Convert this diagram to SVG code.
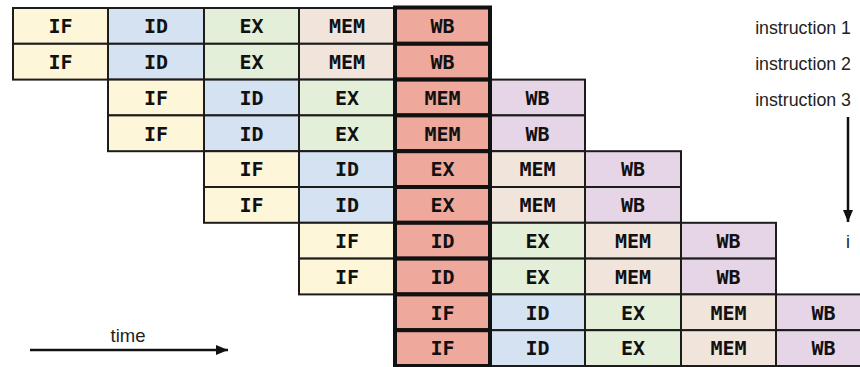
<svg xmlns="http://www.w3.org/2000/svg" width="860" height="367" viewBox="0 0 860 367">
<style>
rect{stroke:#1c1c1c;stroke-width:2}
.if{fill:#fdf6d8}.id{fill:#d5e2f2}.ex{fill:#e3efd9}.mem{fill:#f1e4db}.wb{fill:#e6d4e7}
.hot{fill:#eea89c;stroke:#111;stroke-width:4}
text.s{font-family:"DejaVu Sans Mono",monospace;font-weight:bold;font-size:20px;fill:#111;text-anchor:middle}
text.n{font-family:"Liberation Sans",Arial,sans-serif;font-size:17.8px;fill:#222}
</style>
<defs>
<marker id="ah" viewBox="0 0 12 10" refX="12" refY="5" markerWidth="12" markerHeight="10" markerUnits="userSpaceOnUse" orient="auto"><path d="M0,0L12,5L0,10z" fill="#111"/></marker>
</defs>
<g id="r0">
<g id="n0_0"><rect class="if" x="13" y="8" width="95" height="35.8"/><text class="s" x="60.5" y="33.2">IF</text></g>
<g id="n0_1"><rect class="id" x="108" y="8" width="96" height="35.8"/><text class="s" x="156" y="33.2">ID</text></g>
<g id="n0_2"><rect class="ex" x="204" y="8" width="95" height="35.8"/><text class="s" x="251.5" y="33.2">EX</text></g>
<g id="n0_3"><rect class="mem" x="299" y="8" width="96" height="35.8"/><text class="s" x="347" y="33.2">MEM</text></g>
</g>
<g id="r1">
<g id="n1_0"><rect class="if" x="13" y="43.8" width="95" height="35.8"/><text class="s" x="60.5" y="69">IF</text></g>
<g id="n1_1"><rect class="id" x="108" y="43.8" width="96" height="35.8"/><text class="s" x="156" y="69">ID</text></g>
<g id="n1_2"><rect class="ex" x="204" y="43.8" width="95" height="35.8"/><text class="s" x="251.5" y="69">EX</text></g>
<g id="n1_3"><rect class="mem" x="299" y="43.8" width="96" height="35.8"/><text class="s" x="347" y="69">MEM</text></g>
</g>
<g id="r2">
<g id="n2_1"><rect class="if" x="108" y="79.6" width="96" height="35.8"/><text class="s" x="156" y="104.8">IF</text></g>
<g id="n2_2"><rect class="id" x="204" y="79.6" width="95" height="35.8"/><text class="s" x="251.5" y="104.8">ID</text></g>
<g id="n2_3"><rect class="ex" x="299" y="79.6" width="96" height="35.8"/><text class="s" x="347" y="104.8">EX</text></g>
<g id="n2_5"><rect class="wb" x="490" y="79.6" width="95" height="35.8"/><text class="s" x="537.5" y="104.8">WB</text></g>
</g>
<g id="r3">
<g id="n3_1"><rect class="if" x="108" y="115.4" width="96" height="35.8"/><text class="s" x="156" y="140.6">IF</text></g>
<g id="n3_2"><rect class="id" x="204" y="115.4" width="95" height="35.8"/><text class="s" x="251.5" y="140.6">ID</text></g>
<g id="n3_3"><rect class="ex" x="299" y="115.4" width="96" height="35.8"/><text class="s" x="347" y="140.6">EX</text></g>
<g id="n3_5"><rect class="wb" x="490" y="115.4" width="95" height="35.8"/><text class="s" x="537.5" y="140.6">WB</text></g>
</g>
<g id="r4">
<g id="n4_2"><rect class="if" x="204" y="151.2" width="95" height="35.8"/><text class="s" x="251.5" y="176.4">IF</text></g>
<g id="n4_3"><rect class="id" x="299" y="151.2" width="96" height="35.8"/><text class="s" x="347" y="176.4">ID</text></g>
<g id="n4_5"><rect class="mem" x="490" y="151.2" width="95" height="35.8"/><text class="s" x="537.5" y="176.4">MEM</text></g>
<g id="n4_6"><rect class="wb" x="585" y="151.2" width="96" height="35.8"/><text class="s" x="633" y="176.4">WB</text></g>
</g>
<g id="r5">
<g id="n5_2"><rect class="if" x="204" y="187" width="95" height="35.8"/><text class="s" x="251.5" y="212.2">IF</text></g>
<g id="n5_3"><rect class="id" x="299" y="187" width="96" height="35.8"/><text class="s" x="347" y="212.2">ID</text></g>
<g id="n5_5"><rect class="mem" x="490" y="187" width="95" height="35.8"/><text class="s" x="537.5" y="212.2">MEM</text></g>
<g id="n5_6"><rect class="wb" x="585" y="187" width="96" height="35.8"/><text class="s" x="633" y="212.2">WB</text></g>
</g>
<g id="r6">
<g id="n6_3"><rect class="if" x="299" y="222.8" width="96" height="35.8"/><text class="s" x="347" y="248">IF</text></g>
<g id="n6_5"><rect class="ex" x="490" y="222.8" width="95" height="35.8"/><text class="s" x="537.5" y="248">EX</text></g>
<g id="n6_6"><rect class="mem" x="585" y="222.8" width="96" height="35.8"/><text class="s" x="633" y="248">MEM</text></g>
<g id="n6_7"><rect class="wb" x="681" y="222.8" width="95" height="35.8"/><text class="s" x="728.5" y="248">WB</text></g>
</g>
<g id="r7">
<g id="n7_3"><rect class="if" x="299" y="258.6" width="96" height="35.8"/><text class="s" x="347" y="283.8">IF</text></g>
<g id="n7_5"><rect class="ex" x="490" y="258.6" width="95" height="35.8"/><text class="s" x="537.5" y="283.8">EX</text></g>
<g id="n7_6"><rect class="mem" x="585" y="258.6" width="96" height="35.8"/><text class="s" x="633" y="283.8">MEM</text></g>
<g id="n7_7"><rect class="wb" x="681" y="258.6" width="95" height="35.8"/><text class="s" x="728.5" y="283.8">WB</text></g>
</g>
<g id="r8">
<g id="n8_5"><rect class="id" x="490" y="294.4" width="95" height="35.8"/><text class="s" x="537.5" y="319.6">ID</text></g>
<g id="n8_6"><rect class="ex" x="585" y="294.4" width="96" height="35.8"/><text class="s" x="633" y="319.6">EX</text></g>
<g id="n8_7"><rect class="mem" x="681" y="294.4" width="95" height="35.8"/><text class="s" x="728.5" y="319.6">MEM</text></g>
<g id="n8_8"><rect class="wb" x="776" y="294.4" width="95" height="35.8"/><text class="s" x="823.5" y="319.6">WB</text></g>
</g>
<g id="r9">
<g id="n9_5"><rect class="id" x="490" y="330.2" width="95" height="35.8"/><text class="s" x="537.5" y="355.4">ID</text></g>
<g id="n9_6"><rect class="ex" x="585" y="330.2" width="96" height="35.8"/><text class="s" x="633" y="355.4">EX</text></g>
<g id="n9_7"><rect class="mem" x="681" y="330.2" width="95" height="35.8"/><text class="s" x="728.5" y="355.4">MEM</text></g>
<g id="n9_8"><rect class="wb" x="776" y="330.2" width="95" height="35.8"/><text class="s" x="823.5" y="355.4">WB</text></g>
</g>
<g id="hotcol">
<g id="n0_4"><rect class="hot" x="395" y="7.5" width="95" height="36.3"/><text class="s" x="442.5" y="33.2">WB</text></g>
<g id="n1_4"><rect class="hot" x="395" y="43.8" width="95" height="35.8"/><text class="s" x="442.5" y="69">WB</text></g>
<g id="n2_4"><rect class="hot" x="395" y="79.6" width="95" height="35.8"/><text class="s" x="442.5" y="104.8">MEM</text></g>
<g id="n3_4"><rect class="hot" x="395" y="115.4" width="95" height="35.8"/><text class="s" x="442.5" y="140.6">MEM</text></g>
<g id="n4_4"><rect class="hot" x="395" y="151.2" width="95" height="35.8"/><text class="s" x="442.5" y="176.4">EX</text></g>
<g id="n5_4"><rect class="hot" x="395" y="187" width="95" height="35.8"/><text class="s" x="442.5" y="212.2">EX</text></g>
<g id="n6_4"><rect class="hot" x="395" y="222.8" width="95" height="35.8"/><text class="s" x="442.5" y="248">ID</text></g>
<g id="n7_4"><rect class="hot" x="395" y="258.6" width="95" height="35.8"/><text class="s" x="442.5" y="283.8">ID</text></g>
<g id="n8_4"><rect class="hot" x="395" y="294.4" width="95" height="35.8"/><text class="s" x="442.5" y="319.6">IF</text></g>
<g id="n9_4"><rect class="hot" x="395" y="330.2" width="95" height="35.8"/><text class="s" x="442.5" y="355.4">IF</text></g>
</g>
<g id="labels">
<text class="n" x="851" y="34" text-anchor="end">instruction 1</text>
<text class="n" x="851" y="70" text-anchor="end">instruction 2</text>
<text class="n" x="851" y="106" text-anchor="end">instruction 3</text>
<text class="n" x="848" y="248" text-anchor="middle">i</text>
<text class="n" x="128" y="342" text-anchor="middle" style="font-size:18.5px">time</text>
</g>
<g id="connectors" stroke="#111" stroke-width="2.5" fill="none">
<line x1="848" y1="117" x2="848" y2="222" marker-end="url(#ah)"/>
<line x1="30" y1="350" x2="228" y2="350" marker-end="url(#ah)"/>
</g>
</svg>
